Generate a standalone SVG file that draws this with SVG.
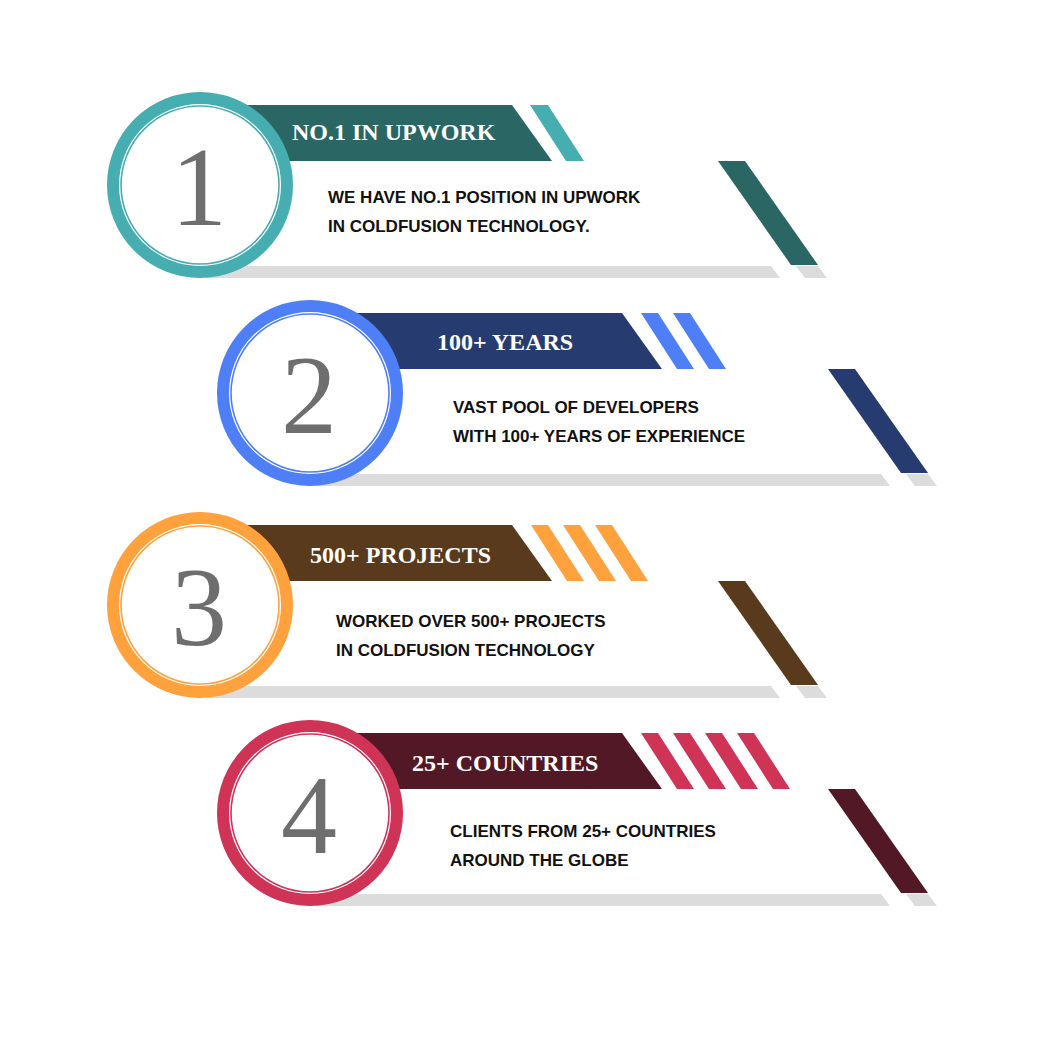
<svg xmlns="http://www.w3.org/2000/svg" width="1042" height="1042" viewBox="0 0 1042 1042">
<style>
.gray{fill:#dcdcdc}
.ring{fill:#fff;stroke-width:12}
.thin{fill:none;stroke-width:1.6}
.num{font-family:"Liberation Serif",serif;font-size:112px;fill:#6e6e6e;text-anchor:middle}
.title{font-family:"Liberation Serif",serif;font-weight:bold;font-size:24px;fill:#fff}
.body{font-family:"Liberation Sans",Arial,sans-serif;font-weight:bold;font-size:17px;fill:#111}
</style>
<rect width="1042" height="1042" fill="#fff"/>
<defs>
<g id="base">
<polygon class="gray" points="205,266 771,266 780,278 205,278"/>
<polygon class="gray" points="796,266 818,266 827,278 805,278"/>
</g>
</defs>
<g id="node1">
<use href="#base"/>
<polygon fill="#2a6664" points="245,105 512,105 552,161 245,161"/>
<polygon fill="#46aeb0" points="530,105 548,105 584,161 566,161"/>
<polygon fill="#2a6664" points="718,161 745,161 818,265 791,265"/>
<circle class="ring" cx="200" cy="185" r="87" stroke="#46aeb0"/>
<circle class="thin" cx="200" cy="185" r="79" stroke="#46aeb0"/>
<text class="num" x="199" y="225">1</text>
<text class="title" x="292" y="140">NO.1 IN UPWORK</text>
<text class="body" x="328" y="203">WE HAVE NO.1 POSITION  IN UPWORK</text>
<text class="body" x="328" y="232">IN COLDFUSION TECHNOLOGY.</text>
</g>
<g id="node2" transform="translate(110,208)">
<use href="#base"/>
<polygon fill="#263c70" points="245,105 512,105 552,161 245,161"/>
<polygon fill="#4f7ff6" points="531,105 548,105 584,161 567,161"/>
<polygon fill="#4f7ff6" points="563,105 580,105 616,161 599,161"/>
<polygon fill="#263c70" points="718,161 745,161 818,265 791,265"/>
<circle class="ring" cx="200" cy="185" r="87" stroke="#4f7ff6"/>
<circle class="thin" cx="200" cy="185" r="79" stroke="#4f7ff6"/>
<text class="num" x="199" y="225">2</text>
<text class="title" x="327" y="142">100+ YEARS</text>
<text class="body" x="343" y="205">VAST POOL OF DEVELOPERS</text>
<text class="body" x="343" y="234">WITH 100+ YEARS OF EXPERIENCE</text>
</g>
<g id="node3" transform="translate(0,420)">
<use href="#base"/>
<polygon fill="#5a3a1c" points="245,105 512,105 552,161 245,161"/>
<polygon fill="#ffa23d" points="531,105 548,105 584,161 567,161"/>
<polygon fill="#ffa23d" points="563,105 580,105 616,161 599,161"/>
<polygon fill="#ffa23d" points="595,105 612,105 648,161 631,161"/>
<polygon fill="#5a3a1c" points="718,161 745,161 818,265 791,265"/>
<circle class="ring" cx="200" cy="185" r="87" stroke="#ffa23d"/>
<circle class="thin" cx="200" cy="185" r="79" stroke="#ffa23d"/>
<text class="num" x="199" y="225">3</text>
<text class="title" x="310" y="143">500+ PROJECTS</text>
<text class="body" x="336" y="207">WORKED OVER 500+ PROJECTS</text>
<text class="body" x="336" y="236">IN COLDFUSION TECHNOLOGY</text>
</g>
<g id="node4" transform="translate(110,628)">
<use href="#base"/>
<polygon fill="#521826" points="245,105 512,105 552,161 245,161"/>
<polygon fill="#cf3356" points="531,105 548,105 584,161 567,161"/>
<polygon fill="#cf3356" points="563,105 580,105 616,161 599,161"/>
<polygon fill="#cf3356" points="595,105 612,105 648,161 631,161"/>
<polygon fill="#cf3356" points="627,105 644,105 680,161 663,161"/>
<polygon fill="#521826" points="718,161 745,161 818,265 791,265"/>
<circle class="ring" cx="200" cy="185" r="87" stroke="#cf3356"/>
<circle class="thin" cx="200" cy="185" r="79" stroke="#cf3356"/>
<text class="num" x="199" y="225">4</text>
<text class="title" x="302" y="143">25+ COUNTRIES</text>
<text class="body" x="340" y="209">CLIENTS FROM 25+ COUNTRIES</text>
<text class="body" x="340" y="238">AROUND THE GLOBE</text>
</g>
<g id="connectors"/>
</svg>
